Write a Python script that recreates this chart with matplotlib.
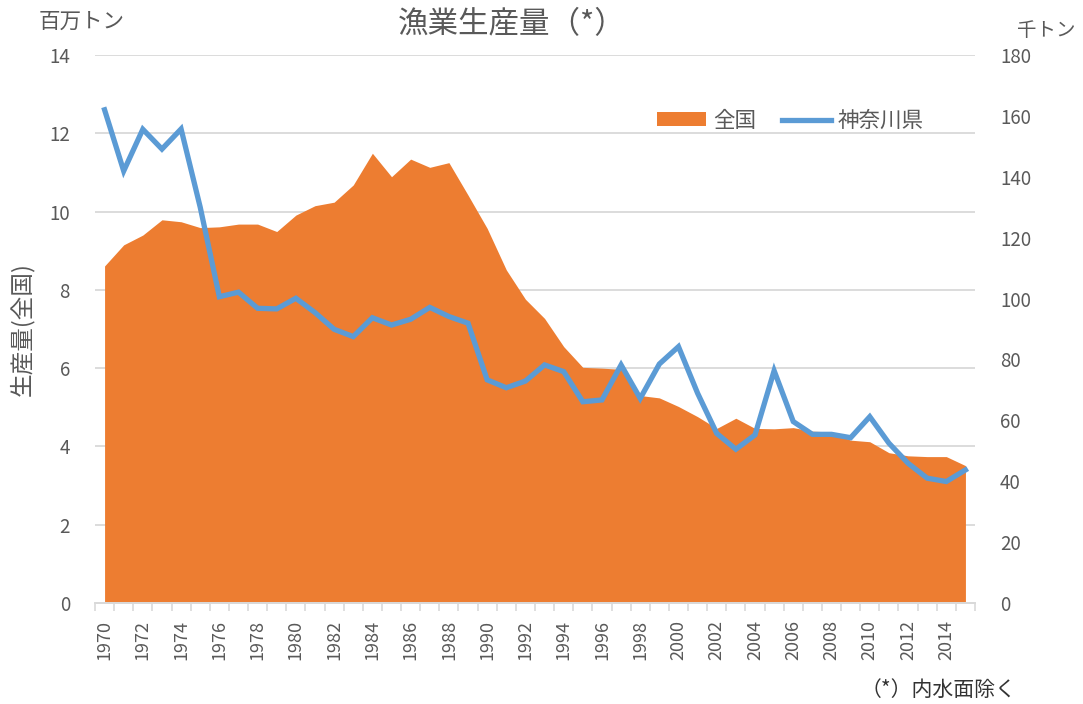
# 漁業生産量 (全国 vs 神奈川県) area + line chart
import numpy as np
import matplotlib.pyplot as plt
from matplotlib.patches import Patch
from matplotlib.lines import Line2D

plt.rcParams['font.family'] = ['Noto Sans CJK JP', 'DejaVu Sans']

# Data #
years = list(range(1970, 2016))
zenkoku = [8.61, 9.15, 9.40, 9.79, 9.74, 9.59, 9.61, 9.68, 9.68, 9.49,
           9.91, 10.15, 10.24, 10.68, 11.49, 10.89, 11.34, 11.13, 11.25, 10.42,
           9.57, 8.51, 7.76, 7.27, 6.55, 6.02, 6.00, 5.97, 5.30, 5.24,
           5.02, 4.76, 4.46, 4.72, 4.46, 4.45, 4.48, 4.39, 4.37, 4.16,
           4.12, 3.84, 3.76, 3.74, 3.74, 3.51]          # 百万トン
kanagawa = [162.0, 141.9, 155.6, 149.1, 155.7, 130.0, 100.6, 102.1, 96.8, 96.6,
            100.1, 95.4, 89.9, 87.5, 93.7, 91.3, 93.2, 97.1, 94.1, 91.9,
            73.3, 70.7, 72.9, 78.2, 76.0, 66.1, 66.7, 78.2, 67.2, 78.5,
            84.2, 68.9, 55.7, 50.5, 55.2, 76.3, 59.6, 55.4, 55.4, 54.3,
            61.2, 52.5, 45.9, 41.0, 39.9, 43.7]          # 千トン

ORANGE = '#ED7D31'
BLUE = '#5B9BD5'
GRAY = '#595959'
GRID = '#D9D9D9'

fig = plt.figure(figsize=(10.83, 7.04), dpi=100)
ax = fig.add_axes([95/1083, 1-603/704, 880/1083, 548/704])
ax2 = ax.twinx()

x = np.arange(len(years))
ax.fill_between(x, zenkoku, color=ORANGE, lw=0, zorder=2)
ax2.plot(x, kanagawa, color=BLUE, lw=3.8, solid_joinstyle='miter', zorder=3)

# Axes #
ax.set_xlim(-0.5, len(years) - 0.5)
ax.set_ylim(0, 14)
ax.set_yticks(np.arange(0, 15, 2))
ax2.set_ylim(0, 180)
ax2.set_yticks(np.arange(0, 181, 20))

ax.set_xticks(x[::2])
ax.set_xticklabels([str(y) for y in years[::2]], rotation=90)
ax.set_xticks(np.arange(-0.5, len(years)), minor=True)
ax.tick_params(axis='x', which='major', length=0, pad=12, labelsize=13, labelcolor=GRAY)
ax.tick_params(axis='x', which='minor', length=6, width=1.2, color=GRID)
ax.tick_params(axis='y', length=0, pad=18, labelsize=13.5, labelcolor=GRAY)
ax2.tick_params(axis='y', length=0, pad=18, labelsize=13.5, labelcolor=GRAY)

ax.grid(axis='y', color=GRID, lw=1.3, zorder=0)
ax.set_axisbelow(True)
for a in (ax, ax2):
    for s in ('top', 'left', 'right'):
        a.spines[s].set_visible(False)
    a.spines['bottom'].set_color(GRID)
    a.spines['bottom'].set_linewidth(1.3)

# Texts #
fig.text(512/1083, 1-25/704, '漁業生産量（*）', ha='center', va='center', fontsize=22, color=GRAY)
fig.text(82/1083, 1-22/704, '百万トン', ha='center', va='center', fontsize=15.5, color=GRAY)
fig.text(1046/1083, 1-30/704, '千トン', ha='center', va='center', fontsize=14, color=GRAY)
fig.text(22/1083, 1-329/704, '生産量(全国)', ha='center', va='center', rotation=90,
         fontsize=17, color=GRAY)
fig.text(1016/1083, 1-690/704, '（*）内水面除く', ha='right', va='center', fontsize=15,
         color='#333333')

# Legend #
handles = [Patch(facecolor=ORANGE, edgecolor='none'),
           Line2D([], [], color=BLUE, lw=3.8)]
leg = ax2.legend(handles, ['全国', '神奈川県'], loc='center', bbox_to_anchor=(0.79, 0.88),
                 ncol=2, frameon=False, fontsize=15.5, handlelength=2.3,
                 handleheight=0.6, columnspacing=1.2, handletextpad=0.3)
for t in leg.get_texts():
    t.set_color(GRAY)

fig.savefig('out.png', dpi=100)
